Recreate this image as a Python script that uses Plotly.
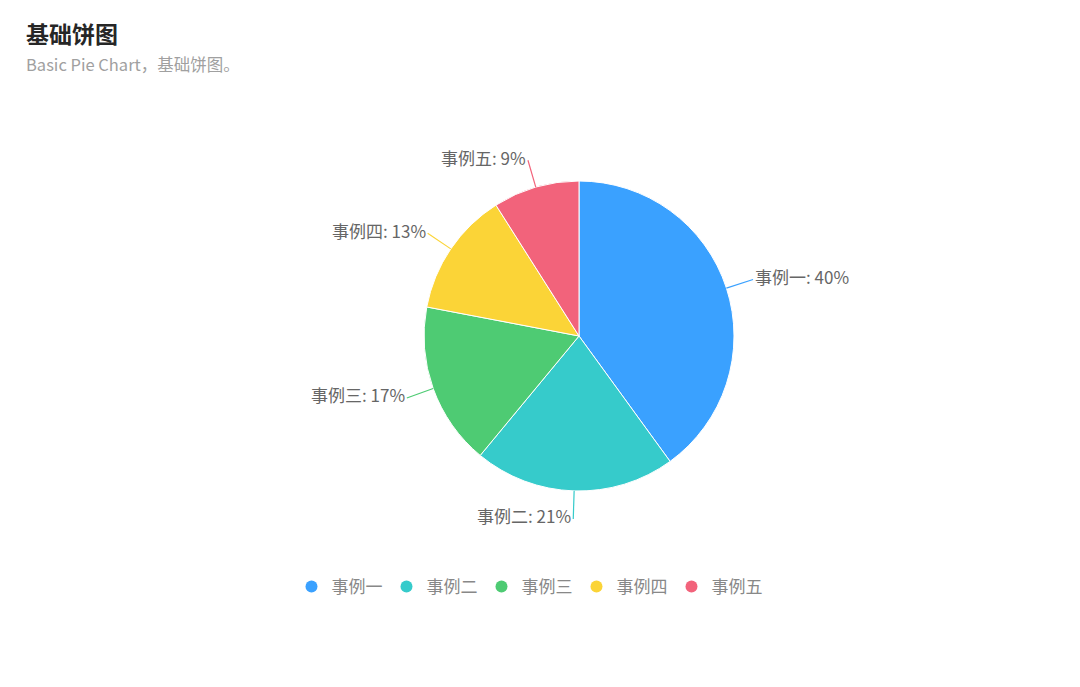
import math
import plotly.graph_objects as go

# data
labels = ["事例一", "事例二", "事例三", "事例四", "事例五"]
values = [40, 21, 17, 13, 9]
colors = ["#3AA1FF", "#36CBCB", "#4ECB73", "#FBD437", "#F2637B"]

title = "基础饼图"
subtitle = "Basic Pie Chart，基础饼图。"

W, H = 1080, 687
OFF = 8  # page margin around the plot div
cx, cy, R = 579, 336, 155  # pie centre / radius in page pixels
font_cjk = "Noto Sans CJK SC, Microsoft YaHei, sans-serif"


def px(x):
    return (x - OFF) / (W - 2 * OFF)


def py(y):
    return 1 - (y - OFF) / (H - 2 * OFF)


fig = go.Figure()

fig.add_trace(go.Pie(
    labels=labels, values=values, sort=False, direction="clockwise", rotation=0,
    marker=dict(colors=colors, line=dict(color="white", width=1)),
    textinfo="none", hoverinfo="label+percent", showlegend=False,
    domain=dict(x=[px(cx - R), px(cx + R)], y=[py(cy + R), py(cy - R)]),
))

# legend entries with round markers
for lab, col in zip(labels, colors):
    fig.add_trace(go.Scatter(x=[None], y=[None], mode="markers", name=lab,
                             marker=dict(color=col, size=12, symbol="circle")))

# outside labels with leader lines, placed from the slice mid-angles
total = sum(values)
cum = 0
shapes = []
annots = []
for lab, val, col in zip(labels, values, colors):
    theta = 2 * math.pi * (cum + val / 2) / total
    cum += val
    s, c = math.sin(theta), math.cos(theta)
    x0, y0 = cx + R * s, cy - R * c
    x1, y1 = cx + (R + 28) * s, cy - (R + 28) * c
    shapes.append(dict(type="line", xref="paper", yref="paper",
                       x0=px(x0), y0=py(y0), x1=px(x1), y1=py(y1),
                       line=dict(color=col, width=1.2)))
    annots.append(dict(x=px(x1), y=py(y1 - 3), xref="paper", yref="paper",
                       text=f"{lab}: {round(100 * val / total)}%", showarrow=False,
                       xanchor="left" if s >= 0 else "right", yanchor="middle",
                       font=dict(size=17, color="#666666", family=font_cjk)))

annots.append(dict(x=px(24), y=py(33), xref="paper", yref="paper", text=f"<b>{title}</b>",
                   showarrow=False, xanchor="left", yanchor="middle",
                   font=dict(size=23, color="#262626", family=font_cjk)))
annots.append(dict(x=px(24), y=py(64), xref="paper", yref="paper", text=subtitle,
                   showarrow=False, xanchor="left", yanchor="middle",
                   font=dict(size=16.5, color="#a0a0a0", family=font_cjk)))

fig.update_layout(
    width=W - 2 * OFF, height=H - 2 * OFF,
    margin=dict(l=0, r=0, t=0, b=0),
    paper_bgcolor="white", plot_bgcolor="white",
    xaxis=dict(visible=False), yaxis=dict(visible=False),
    shapes=shapes, annotations=annots,
    legend=dict(orientation="h", x=px(529), xanchor="center", y=py(587), yanchor="middle",
                entrywidth=50, entrywidthmode="pixels",
                font=dict(size=17, color="#888888", family=font_cjk)),
)

fig.write_html("out.html")
